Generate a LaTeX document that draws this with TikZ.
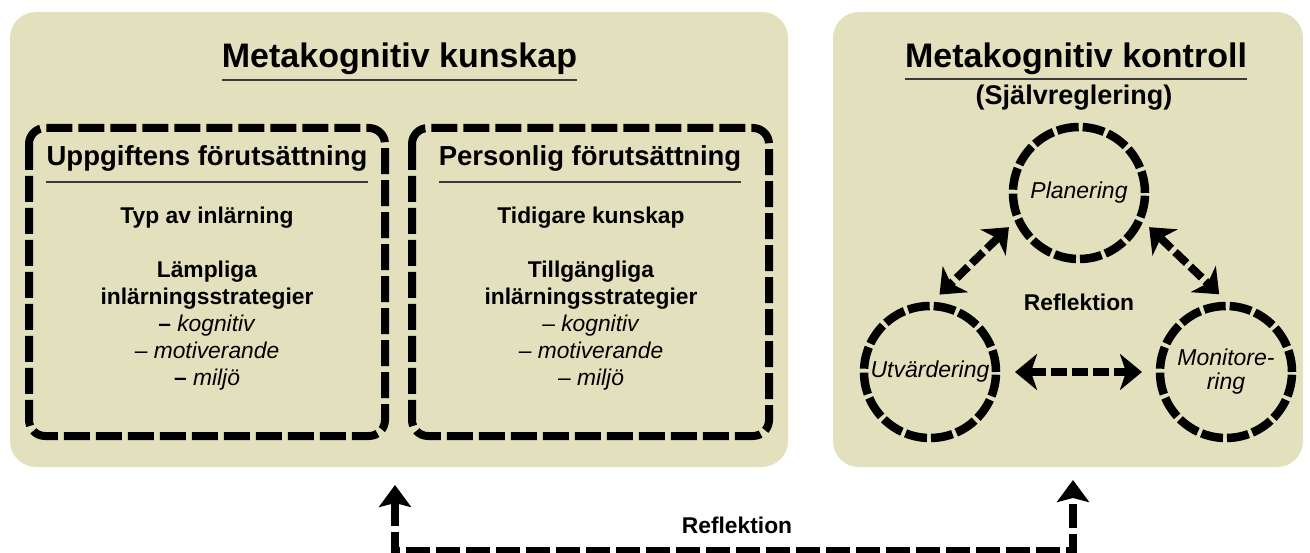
\documentclass[tikz,border=0pt]{standalone}
\usepackage{fontspec}
\setmainfont{Liberation Sans}
\usetikzlibrary{arrows.meta}

\definecolor{panelfill}{HTML}{E3E1BD}
\definecolor{rulegray}{HTML}{3A3A3A}

\begin{document}
\begin{tikzpicture}[
			x=1pt, y=-1pt,
			panel/.style={fill=panelfill, rounded corners=26pt, inner sep=0, outer sep=0},
			dashbox/.style={line width=8pt, dash pattern=on 26pt off 6pt, rounded corners=16pt},
			title/.style={font=\fontsize{34}{40}\selectfont\bfseries, inner sep=0, anchor=base},
			heading/.style={font=\fontsize{27.5}{32}\selectfont\bfseries, inner sep=0, anchor=base},
			body/.style={font=\fontsize{22.8}{27}\selectfont, align=center, inner sep=0, anchor=north},
			label/.style={font=\fontsize{22.8}{27}\selectfont\bfseries, inner sep=0, anchor=base},
			phase/.style={circle, draw, line width=8.5pt, dash pattern=on 22pt off 4pt, minimum size=132pt,
				inner sep=0, outer sep=12pt, align=center, font=\fontsize{23}{24}\selectfont\itshape},
			rule/.style={draw=rulegray, line width=1.3pt},
			flow/.style={line width=8pt, dash pattern=on 16pt off 5pt,
				>={Stealth[length=22pt,width=36pt,inset=6pt]}, <->},
			feedback/.style={line width=8pt, dash pattern=on 24pt off 6pt,
				>={Stealth[length=22pt,width=32pt,inset=4pt]}, <->}
			]
			\useasboundingbox (0,0) rectangle (1310,553);
			
			% the two panels
			\node[panel, minimum width=778pt, minimum height=455pt] (knowledge) at (399,239.5) {};
			\node[panel, minimum width=470pt, minimum height=455pt] (control) at (1068,239.5) {};
			
			% metakognitiv kunskap
			\node[title] (knowT) at (399.5,68) {Metakognitiv kunskap};
			\draw[rule] ([yshift=-12pt]knowT.base west) -- ([yshift=-12pt]knowT.base east);
			
			\draw[dashbox] (29,128) rectangle (385,436);
			\draw[dashbox] (412,128) rectangle (769,436);
			
			\node[heading] (taskH) at (207,166) {Uppgiftens förutsättning};
			\draw[rule] ([yshift=-16pt]taskH.base west) -- ([yshift=-16pt]taskH.base east);
			\node[heading] (selfH) at (590,166) {Personlig förutsättning};
			\draw[rule] ([yshift=-16pt]selfH.base west) -- ([yshift=-16pt]selfH.base east);
			
			\node[body] (taskB) at (207,207) {\textbf{Typ av inlärning}\\[27pt]
				\textbf{Lämpliga}\\ \textbf{inlärningsstrategier}\\
				\textbf{–} \textit{kognitiv}\\ – \textit{motiverande}\\ \textbf{–} \textit{miljö}};
			\node[body] (selfB) at (591,207) {\textbf{Tidigare kunskap}\\[27pt]
				\textbf{Tillgängliga}\\ \textbf{inlärningsstrategier}\\
				– \textit{kognitiv}\\ – \textit{motiverande}\\ – \textit{miljö}};
			
			% metakognitiv kontroll
			\node[title] (ctrlT) at (1076,68) {Metakognitiv kontroll};
			\draw[rule] ([yshift=-11pt]ctrlT.base west) -- ([yshift=-11pt]ctrlT.base east);
			\node[heading, font=\fontsize{27}{30}\selectfont\bfseries] (ctrlS) at (1074,105) {(Självreglering)};
			
			\node[phase] (plan) at (1079,193) {Planering};
			\node[phase] (eval) at (930,372) {Utvärdering};
			\node[phase] (moni) at (1226,372) {Monitore-\\ring};
			\node[label] (reflC) at (1079,311) {Reflektion};
			
			\draw[flow] (plan.206) -- (eval.83);
			\draw[flow] (plan.334) -- (moni.95);
			\draw[flow, shorten <=7pt, shorten >=6pt] (eval.0) -- (moni.180);
			
			% reflection loop below
			\coordinate (loopL) at (395,551);
			\coordinate (loopR) at (1073,551);
			\draw[feedback] ([xshift=-4pt,yshift=-18pt]knowledge.south) -- (loopL) -- (loopR)
				-- ([xshift=5pt,yshift=-13pt]control.south);
			\node[label] (reflB) at (737,533) {Reflektion};
		\end{tikzpicture}
\end{document}
